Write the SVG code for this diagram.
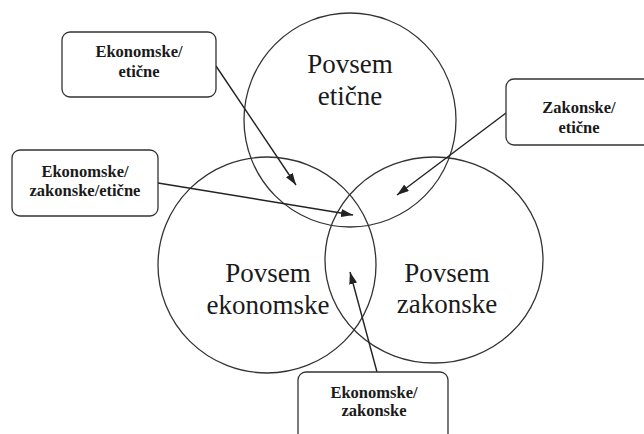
<svg xmlns="http://www.w3.org/2000/svg" width="644" height="434" viewBox="0 0 644 434">
<defs>
<style>
.circ{fill:none;stroke:#333;stroke-width:1.3}
.box{fill:#fff;stroke:#333;stroke-width:1.3}
.big{font-size:27px;fill:#1a1a1a;text-anchor:middle}
.lbl{font-size:16.5px;font-weight:bold;fill:#1a1a1a;text-anchor:middle}
.con{fill:none;stroke:#222;stroke-width:1.4}
</style>
<marker id="arr" viewBox="0 0 12 8" refX="12" refY="4" markerWidth="12" markerHeight="8" markerUnits="userSpaceOnUse" orient="auto">
<path d="M0,0 L12,4 L0,8 z" fill="#222"/>
</marker>
</defs>
<rect width="644" height="434" fill="#fff"/>
<g font-family="Liberation Serif, serif">
<g id="circle-eticne">
<ellipse class="circ" cx="350" cy="120" rx="106" ry="107"/>
<text class="big" x="350" y="73">Povsem</text>
<text class="big" x="350" y="105">etične</text>
</g>
<g id="circle-ekonomske">
<ellipse class="circ" cx="267" cy="265" rx="109" ry="108"/>
<text class="big" x="268" y="282">Povsem</text>
<text class="big" x="268" y="314">ekonomske</text>
</g>
<g id="circle-zakonske">
<ellipse class="circ" cx="434" cy="260" rx="109" ry="103"/>
<text class="big" x="447" y="282">Povsem</text>
<text class="big" x="447" y="313">zakonske</text>
</g>
<g id="connectors">
<line class="con" x1="216" y1="66" x2="296" y2="185" marker-end="url(#arr)"/>
<line class="con" x1="506" y1="113" x2="397" y2="195" marker-end="url(#arr)"/>
<line class="con" x1="158" y1="183" x2="353" y2="215" marker-end="url(#arr)"/>
<line class="con" x1="377" y1="372" x2="350" y2="272" marker-end="url(#arr)"/>
</g>
<g id="box-ekonomske-eticne">
<rect class="box" x="62" y="32" width="154" height="65" rx="8"/>
<text class="lbl" x="139" y="57">Ekonomske/</text>
<text class="lbl" x="139" y="77">etične</text>
</g>
<g id="box-zakonske-eticne">
<rect class="box" x="506" y="79" width="146" height="66" rx="8"/>
<text class="lbl" x="579" y="113">Zakonske/</text>
<text class="lbl" x="579" y="133">etične</text>
</g>
<g id="box-ekonomske-zakonske-eticne">
<rect class="box" x="12" y="150" width="146" height="66" rx="8"/>
<text class="lbl" x="85" y="177">Ekonomske/</text>
<text class="lbl" x="85" y="196">zakonske/etične</text>
</g>
<g id="box-ekonomske-zakonske">
<rect class="box" x="298" y="372" width="150" height="70" rx="8"/>
<text class="lbl" x="374" y="398">Ekonomske/</text>
<text class="lbl" x="374" y="416">zakonske</text>
</g>
</g>
</svg>
